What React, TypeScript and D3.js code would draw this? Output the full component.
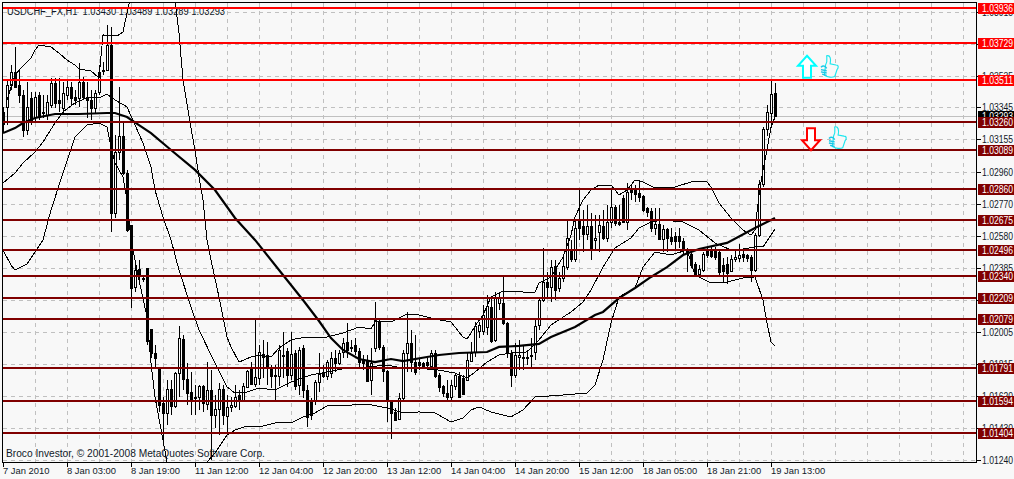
import React, { useEffect, useRef } from 'react';
import * as d3 from 'd3';

// all prices in points (1.03430 = 103430), one entry per H1 bar
const opens = [
  103318,103348,103479,103557,103479,103419,103210,103402,103288,103419,103312,103300,103360,103491,103390,103342,
  103419,103467,103408,103402,103497,103408,103390,103342,103437,103563,103569,103718,102715,103079,103175,102954,
  102643,102273,102380,102327,102386,102022,101879,101789,101580,101521,101664,101563,101759,101963,101724,101646,
  101610,101616,101682,101574,101658,101509,101545,101664,101503,101557,101563,101628,101598,101676,101795,101694,
  101730,101873,101867,101795,101748,101742,101867,101891,101748,101879,101688,101909,101658,101598,101598,101706,
  101759,101742,101759,101849,101819,101885,101945,101915,101927,101891,101837,101831,101718,101909,102064,101915,
  101771,101592,101527,101485,101610,101879,101939,101825,101825,101819,101825,101801,101879,101748,101682,101640,
  101616,101682,101742,101730,101718,101831,101885,102010,102010,102034,102154,101957,102177,102177,102058,101879,
  101748,101855,101849,101849,101861,101885,102046,102195,102303,102273,102398,102267,102327,102392,102494,102440,
  102667,102637,102589,102637,102554,102601,102637,102566,102661,102751,102661,102804,102661,102852,102852,102834,
  102816,102745,102727,102625,102649,102560,102619,102572,102578,102578,102548,102494,102470,102410,102351,102374,
  102488,102488,102488,102482,102404,102410,102368,102440,102446,102470,102464,102452,102374,102583,102888,103216,
  103312,103430,
];
const highs = [
  103348,103509,103598,103706,103569,103449,103497,103437,103437,103437,103419,103419,103521,103521,103521,103497,
  103509,103497,103449,103610,103527,103497,103449,103449,103598,103616,103838,103826,103181,103467,103258,102972,
  102643,102434,102434,102333,102386,102022,101927,101795,101616,101718,101718,101765,102040,101986,101819,101765,
  101688,101688,101688,101825,101777,101628,101700,101688,101628,101616,101688,101658,101700,101777,101825,102076,
  101927,101957,101945,101807,101807,101927,102004,101909,102004,101897,101915,101927,101688,101610,101718,101879,
  101807,101837,101885,101897,101897,101968,102058,101957,101968,101909,101867,101867,101909,102183,102088,101927,
  101777,101598,101551,101640,101897,102124,102016,101986,101849,101825,101849,101897,101897,101759,101688,101718,
  101718,101759,101765,101748,101885,101945,102064,102064,102166,102225,102213,102243,102243,102333,102064,101897,
  101939,101957,101927,101897,101968,102076,102207,102506,102363,102434,102434,102363,102464,102667,102554,102673,
  102852,102733,102763,102715,102703,102703,102733,102763,102864,102763,102763,102822,102894,102882,102882,102912,
  102822,102751,102745,102745,102745,102643,102625,102625,102601,102625,102566,102506,102482,102422,102404,102482,
  102512,102512,102512,102494,102446,102452,102464,102494,102530,102494,102470,102464,102595,102912,103228,103360,
  103509,103489,
];
const lows = [
  103192,103240,103449,103461,103372,103169,103181,103240,103258,103270,103282,103270,103342,103342,103318,103312,
  103390,103360,103360,103348,103390,103282,103270,103312,103419,103539,103569,102601,102685,103031,102942,102601,
  102148,102243,102303,102303,101927,101849,101795,101527,101359,101449,101509,101551,101616,101658,101569,101509,
  101509,101539,101527,101539,101240,101431,101389,101449,101407,101527,101551,101539,101586,101670,101688,101676,
  101688,101730,101688,101670,101598,101682,101730,101676,101718,101658,101628,101610,101437,101479,101569,101646,
  101730,101718,101730,101765,101807,101849,101849,101885,101867,101789,101777,101706,101628,101885,101897,101706,
  101467,101365,101479,101479,101598,101765,101765,101748,101777,101789,101777,101789,101730,101646,101616,101598,
  101598,101658,101610,101628,101718,101825,101855,101968,101986,101986,101939,101945,102136,102046,101849,101676,
  101730,101777,101777,101807,101789,101837,102016,102183,102207,102183,102195,102243,102303,102374,102422,102422,
  102554,102482,102554,102434,102494,102482,102554,102542,102625,102637,102637,102655,102613,102792,102780,102780,
  102721,102691,102601,102583,102554,102482,102482,102524,102494,102506,102464,102363,102386,102339,102339,102363,
  102446,102446,102434,102345,102303,102291,102363,102422,102422,102422,102422,102303,102363,102571,102870,103175,
  103222,103289,
];
const closes = [
  103246,103479,103557,103467,103419,103210,103348,103258,103408,103288,103318,103378,103491,103372,103372,103431,
  103467,103402,103390,103497,103408,103390,103342,103431,103557,103569,103718,102715,103079,103175,102954,102613,
  102267,102374,102339,102321,101951,101879,101849,101569,101521,101664,101563,101759,101968,101724,101640,101598,
  101616,101682,101580,101658,101509,101545,101664,101509,101557,101569,101616,101598,101682,101771,101694,101736,
  101885,101855,101795,101742,101742,101897,101861,101748,101873,101682,101897,101658,101497,101509,101706,101753,
  101742,101825,101849,101819,101879,101939,101897,101909,101891,101825,101819,101712,101819,102076,101915,101771,
  101598,101521,101479,101610,101879,101939,101825,101765,101807,101801,101807,101879,101742,101676,101640,101616,
  101688,101748,101616,101634,101837,101879,102040,102046,102106,102160,101951,102207,102213,102058,101879,101748,
  101867,101867,101855,101855,101867,102040,102195,102303,102273,102392,102255,102327,102398,102566,102440,102625,
  102625,102589,102637,102500,102566,102643,102566,102661,102751,102655,102649,102661,102840,102840,102828,102810,
  102733,102721,102625,102649,102560,102619,102566,102548,102548,102548,102494,102476,102404,102351,102380,102470,
  102464,102458,102452,102363,102368,102357,102440,102452,102464,102452,102446,102374,102583,102888,103216,103318,
  103425,103293,
];

// indicator lines at the bars where they bend
const upperBars = [1,3,5,7,8,9,12,14,16,18,19,22,24,25,27,29,30,31,32,33,38,41,43,44,45,47,48,49,50,51,52,54,56,57,59,62,64,67,69,72,74,81,85,89,92,93,97,101,104,108,112,113,115,116,117,118,120,122,125,130,133,134,137,140,142,143,145,147,149,152,154,156,158,160,163,168,172,176,177,179,182,185,187,188,189,190,191,192,193];
const upperBand = [103390,103539,103593,103640,103688,103718,103706,103670,103628,103598,103575,103563,103521,103778,103772,103778,103796,103909,104017,104136,104345,104136,103987,103790,103509,103222,103091,102930,102792,102554,102434,102213,101974,101915,101825,101855,101867,101855,101909,101957,101968,101974,101998,102034,102022,102064,102064,102112,102106,102082,102064,102034,101974,101963,101998,102040,102106,102213,102249,102243,102243,102297,102333,102452,102583,102691,102792,102852,102882,102882,102822,102852,102912,102900,102864,102870,102900,102900,102870,102775,102685,102613,102583,102613,102822,102972,103091,103228,103288];
const middleBars = [0,3,5,8,10,13,15,18,21,24,26,28,31,33,35,37,38,40,42,44,47,49,53,56,58,61,64,68,72,77,81,86,91,96,100,104,109,113,116,118,121,124,127,131,134,137,142,145,147,150,153,157,159,162,165,170,174,178,182,185,188,190,193];
const middleBand = [102894,102954,103013,103079,103139,103252,103318,103372,103402,103402,103425,103390,103348,103240,103133,102990,102852,102691,102554,102374,102154,102016,101819,101676,101640,101646,101670,101658,101706,101748,101765,101789,101795,101807,101789,101789,101777,101759,101730,101765,101825,101867,101879,101885,101957,102046,102124,102183,102255,102392,102506,102566,102625,102661,102673,102661,102613,102536,102494,102500,102512,102512,102619];
const lowerBars = [0,2,3,6,8,10,12,15,18,21,24,26,27,28,30,31,32,34,36,37,38,40,41,42,45,48,51,53,56,58,61,64,68,72,75,78,81,88,91,96,100,104,108,112,115,117,119,122,127,130,133,140,146,148,150,152,154,158,160,163,167,171,173,177,180,185,188,190,191,192,193];
const lowerBand = [102494,102404,102374,102410,102482,102554,102733,102954,103169,103240,103252,103228,103109,103013,102930,102792,102554,102315,102094,101819,101616,101359,101228,101121,100941,101001,101228,101282,101389,101419,101443,101437,101461,101461,101497,101521,101563,101569,101574,101551,101521,101527,101521,101467,101491,101539,101557,101527,101497,101539,101616,101628,101640,101688,101837,102058,102213,102267,102392,102482,102464,102494,102345,102297,102297,102327,102333,102195,102058,101945,101921];
const maBars = [0,3,5,8,13,19,26,28,31,34,37,42,48,53,58,63,70,75,79,82,85,89,93,97,100,106,109,114,121,124,129,134,137,143,148,150,154,158,162,166,170,174,181,188,193];
const maLine = [103192,103222,103252,103282,103306,103306,103312,103312,103288,103240,103192,103091,102972,102852,102685,102554,102345,102195,102070,101968,101897,101843,101825,101843,101831,101855,101867,101879,101885,101915,101921,101933,101974,102034,102106,102124,102207,102267,102333,102392,102464,102500,102536,102625,102685];

// horizontal levels drawn by hand on the chart
const levelsHigh = [103936, 103729, 103511];
const levelsLow = [103260, 103089, 102860, 102675, 102496, 102340, 102209, 102079, 101791, 101594, 101404];
const lastPrice = 103293;

const priceTicks = [103915,103725,103535,103345,103155,102960,102770,102580,102385,102195,102005,101815,101620,101430,101240];
const timeLabels = ['7 Jan 2010','8 Jan 03:00','8 Jan 19:00','11 Jan 12:00','12 Jan 04:00','12 Jan 20:00','13 Jan 12:00','14 Jan 04:00','14 Jan 20:00','15 Jan 12:00','18 Jan 05:00','18 Jan 21:00','19 Jan 13:00'];

const title = 'USDCHF_FX,H1  1.03430 1.03489 1.03289 1.03293';
const copyright = 'Broco Investor, © 2001-2008 MetaQuotes Software Corp.';

const WIDTH = 1014;
const HEIGHT = 479;
const FONT = '"Liberation Sans", Arial, sans-serif';
const PRICE_TEXT_WIDTH = 31;
const fmt = (p: number) => (p / 100000).toFixed(5);

const App: React.FC = () => {
  const svgRef = useRef<SVGSVGElement>(null);

  useEffect(() => {
    if (!svgRef.current) return;
    const svg = d3.select(svgRef.current);
    svg.selectAll('*').remove();

    const x = d3.scaleLinear().domain([0, 193]).range([3, 775]);
    const y = d3.scaleLinear().domain([101240, 103915]).range([460, 12]);
    const py = (p: number) => Math.round(y(p));

    svg.append('rect').attr('width', WIDTH).attr('height', HEIGHT).attr('fill', '#f8f8f8');

    svg.append('defs').append('clipPath').attr('id', 'plot')
      .append('rect').attr('x', 3).attr('y', 3).attr('width', 973).attr('height', 459);

    const grid = svg.append('g')
      .attr('stroke', '#c0c0c0')
      .attr('stroke-dasharray', '4,4')
      .attr('shape-rendering', 'crispEdges');
    priceTicks.forEach((p) => {
      grid.append('line').attr('x1', 3).attr('x2', 976)
        .attr('y1', py(p) + 0.5).attr('y2', py(p) + 0.5);
    });
    d3.range(8, 245, 8).forEach((b) => {
      grid.append('line').attr('x1', x(b) + 0.5).attr('x2', x(b) + 0.5)
        .attr('y1', 3).attr('y2', 462);
    });

    // title sits under the top level line
    svg.append('text').attr('x', 7).attr('y', 15)
      .attr('font-family', FONT).attr('font-size', 10).attr('fill', '#101828')
      .attr('textLength', 218).attr('lengthAdjust', 'spacingAndGlyphs')
      .style('white-space', 'pre')
      .text(title);

    // bid line
    svg.append('line').attr('x1', 3).attr('x2', 976)
      .attr('y1', py(lastPrice) + 0.5).attr('y2', py(lastPrice) + 0.5)
      .attr('stroke', '#c0c0c0').attr('shape-rendering', 'crispEdges');

    const plot = svg.append('g').attr('clip-path', 'url(#plot)');

    // candles
    const candles = plot.append('g').attr('shape-rendering', 'crispEdges');
    opens.forEach((o, i) => {
      const c = closes[i];
      const cx = Math.round(x(i));
      candles.append('line')
        .attr('x1', cx + 0.5).attr('x2', cx + 0.5)
        .attr('y1', py(highs[i])).attr('y2', py(lows[i]))
        .attr('stroke', '#000');
      const top = py(Math.max(o, c));
      const bottom = py(Math.min(o, c));
      candles.append('rect')
        .attr('x', cx - 0.5).attr('y', top + 0.5)
        .attr('width', 2).attr('height', Math.max(bottom - top, 1))
        .attr('fill', c >= o ? '#ffffff' : '#000000')
        .attr('stroke', '#000');
    });

    // indicator lines
    const drawLine = (bars: number[], values: number[], width: number) => {
      const line = d3.line<number>()
        .x((_, k) => x(bars[k]))
        .y((d) => y(d));
      plot.append('path')
        .attr('d', line(values))
        .attr('fill', 'none')
        .attr('stroke', '#000')
        .attr('stroke-width', width)
        .attr('shape-rendering', width > 1 ? 'auto' : 'crispEdges');
    };
    drawLine(upperBars, upperBand, 1);
    drawLine(middleBars, middleBand, 1);
    drawLine(lowerBars, lowerBand, 1);
    drawLine(maBars, maLine, 2.2);

    // frame
    const frame = svg.append('g').attr('stroke', '#000').attr('shape-rendering', 'crispEdges');
    frame.append('line').attr('x1', 2.5).attr('x2', 2.5).attr('y1', 2).attr('y2', 463);
    frame.append('line').attr('x1', 2).attr('x2', 977).attr('y1', 2.5).attr('y2', 2.5);
    frame.append('line').attr('x1', 976.5).attr('x2', 976.5).attr('y1', 2).attr('y2', 463);
    frame.append('line').attr('x1', 2).attr('x2', 977).attr('y1', 462.5).attr('y2', 462.5);

    // price axis
    const priceAxis = svg.append('g');
    priceTicks.forEach((p) => {
      priceAxis.append('line').attr('x1', 976).attr('x2', 981)
        .attr('y1', py(p) + 0.5).attr('y2', py(p) + 0.5)
        .attr('stroke', '#000').attr('shape-rendering', 'crispEdges');
      priceAxis.append('text').attr('x', 982).attr('y', py(p) + 3.5)
        .attr('font-family', FONT).attr('font-size', 10).attr('fill', '#101828')
        .attr('textLength', PRICE_TEXT_WIDTH).attr('lengthAdjust', 'spacingAndGlyphs')
        .text(fmt(p));
    });

    // time axis, a label every 16 bars
    const timeAxis = svg.append('g');
    timeLabels.forEach((label, k) => {
      const tx = x(k * 16);
      timeAxis.append('line').attr('x1', tx + 0.5).attr('x2', tx + 0.5)
        .attr('y1', 462).attr('y2', 467)
        .attr('stroke', '#000').attr('shape-rendering', 'crispEdges');
      timeAxis.append('text').attr('x', tx).attr('y', 474)
        .attr('font-family', FONT).attr('font-size', 9.4).attr('fill', '#101828')
        .text(label);
    });

    svg.append('text').attr('x', 6).attr('y', 457)
      .attr('font-family', FONT).attr('font-size', 10.2).attr('fill', '#101828')
      .text(copyright);

    const priceTag = (p: number, color: string) => {
      svg.append('rect').attr('x', 978).attr('y', py(p) - 5).attr('width', 36).attr('height', 11)
        .attr('fill', color).attr('shape-rendering', 'crispEdges');
      svg.append('text').attr('x', 982).attr('y', py(p) + 4)
        .attr('font-family', FONT).attr('font-size', 10).attr('fill', '#ffffff')
        .attr('textLength', PRICE_TEXT_WIDTH).attr('lengthAdjust', 'spacingAndGlyphs')
        .text(fmt(p));
    };
    priceTag(lastPrice, '#000000');

    const drawLevels = (levels: number[], color: string) => {
      levels.forEach((p) => {
        svg.append('rect').attr('x', 3).attr('y', py(p) - 1).attr('width', 973).attr('height', 2)
          .attr('fill', color).attr('shape-rendering', 'crispEdges');
        priceTag(p, color);
      });
    };
    drawLevels(levelsHigh, '#ff0000');
    drawLevels(levelsLow, '#800000');

    // hand-placed arrows and thumbs, anchored on a bar and a price
    const arrow = (bar: number, price: number, dir: 1 | -1, color: string) => {
      const g = svg.append('g')
        .attr('transform', `translate(${x(bar)},${y(price)}) scale(1,${dir})`);
      g.append('path')
        .attr('d', 'M0,-11 L9,-1 L4,-1 L4,11 L-4,11 L-4,-1 L-9,-1 Z')
        .attr('fill', '#ffffff').attr('stroke', color).attr('stroke-width', 2);
    };
    arrow(201, 103588, 1, '#00ffff');
    arrow(202, 103155, -1, '#ff0000');

    const thumb = (bar: number, price: number) => {
      const g = svg.append('g').attr('transform', `translate(${x(bar)},${y(price)}) scale(1.15)`);
      g.append('path')
        .attr('d', 'M-3,-2 C-1,-5 -2,-8 -2,-10 C1,-11 2,-7 1,-3 L6,-2 C9,-2 8,1 7,2 L5,8 C3,9 -1,9 -4,7 Z')
        .attr('fill', '#f8f8f8').attr('stroke', '#19e6ee').attr('stroke-width', 1);
      g.append('path')
        .attr('d', 'M-7,0 C-5,-2 -3,-1 -2,1 M-7,2 L-2,3 M-7,4 L-2,5 M-6,6 L-2,7')
        .attr('fill', 'none').attr('stroke', '#19c8e6').attr('stroke-width', 1.2);
    };
    thumb(206.5, 103585);
    thumb(208.5, 103160);
  }, []);

  return (
    <svg
      ref={svgRef}
      width={WIDTH}
      height={HEIGHT}
      style={{ position: 'absolute', left: 0, top: 0, display: 'block' }}
    />
  );
};

export default App;
